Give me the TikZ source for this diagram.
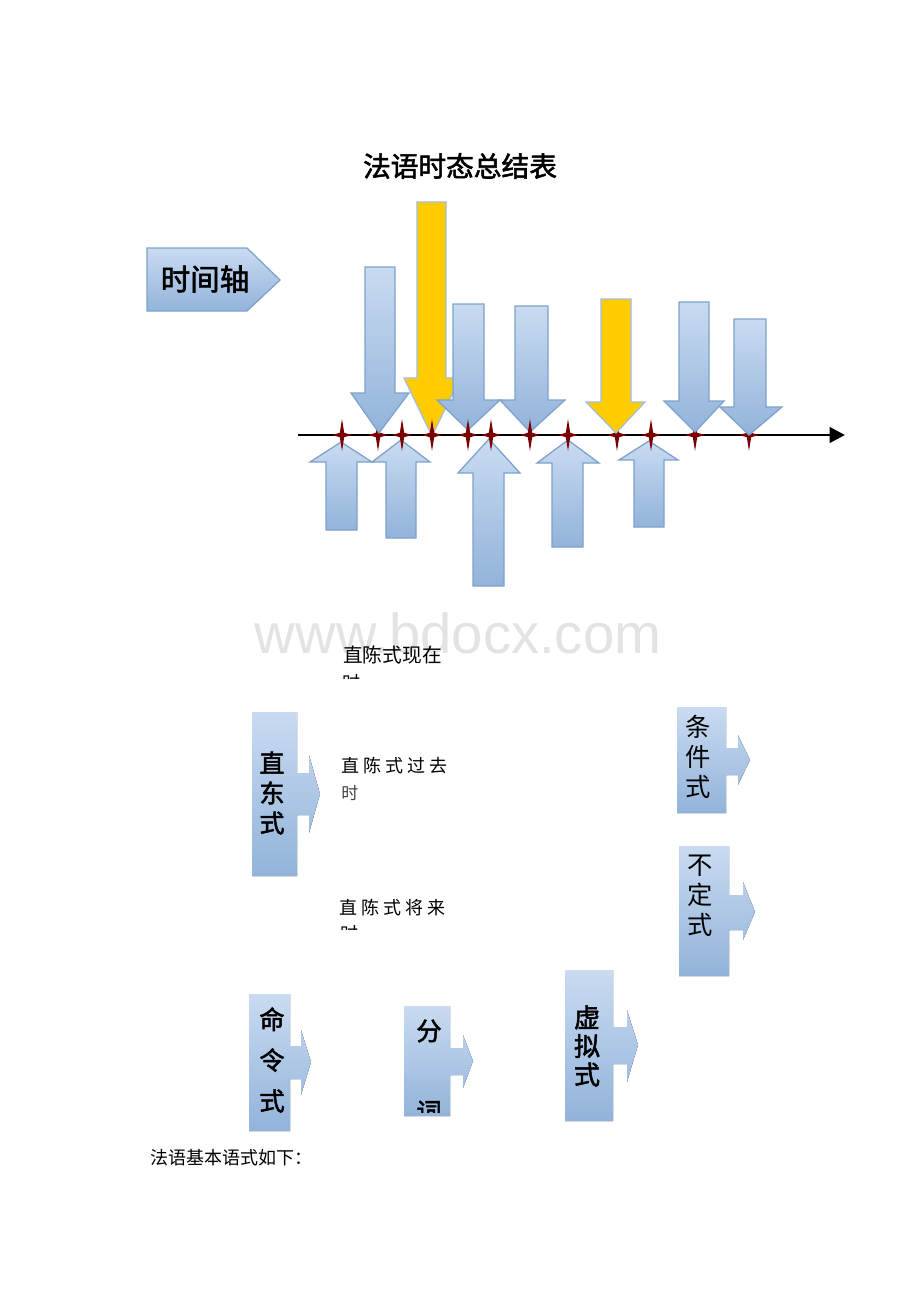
\documentclass[tikz,border=0pt]{standalone}
\usepackage{fontspec}
\newfontfamily\cjk{Noto Sans CJK SC}
\newfontfamily\cjkbold[FakeBold=2]{Noto Sans CJK SC}
\newfontfamily\wmfont{Liberation Sans}
\usetikzlibrary{arrows.meta}
\definecolor{boxtop}{HTML}{C9DBF1}
\definecolor{boxbot}{HTML}{92B3DA}
\definecolor{boxline}{HTML}{7EA1CB}
\definecolor{pastyellow}{HTML}{FFCC00}
\definecolor{starred}{HTML}{7A0000}
\tikzset{
  bluearrow/.style={draw=boxline, line width=0.9pt, top color=boxtop, bottom color=boxbot},
  yellowarrow/.style={draw=boxline!70!white, line width=0.9pt, fill=pastyellow},
  formbox/.style={top color=boxtop, bottom color=boxbot},
  timeline/.style={line width=2.1pt, -{Triangle[length=11pt,width=11pt]}},
  tickstar/.pic={\fill[starred] (0,-16) -- (2.2,-2.2) -- (10,0) -- (2.2,2.2) -- (0,16) -- (-2.2,2.2) -- (-10,0) -- (-2.2,-2.2) -- cycle;},
  formlabel/.style={align=center, inner sep=0pt},
  plain/.style={anchor=west, inner sep=0pt},
}

\begin{document}
\begin{tikzpicture}[x=0.025cm,y=-0.025cm]
\useasboundingbox (0,0) rectangle (920,1302);

% watermark
\node[text=black!11, font=\wmfont\fontsize{40pt}{40pt}\selectfont] (mark) at (458,633) {www.bdocx.com};

% title
\node[font=\cjkbold\fontsize{19.7pt}{24pt}\selectfont] (title) at (460,166) {法语时态总结表};

% label of the time axis
\draw[bluearrow] (147,248) -- (247,248) -- (280,280) -- (247,311) -- (147,311) -- cycle;
\node[font=\cjkbold\fontsize{21pt}{24pt}\selectfont] (axislabel) at (205,279) {时间轴};

% arrows from below
\draw[bluearrow] (341,442) -- (372,462) -- (357,462) -- (357,530) -- (326,530) -- (326,462) -- (310,462) -- cycle;
\draw[bluearrow] (401,440) -- (430,462) -- (416,462) -- (416,538) -- (386,538) -- (386,462) -- (372,462) -- cycle;
\draw[bluearrow] (489,439) -- (520,473) -- (504,473) -- (504,586) -- (473,586) -- (473,473) -- (458,473) -- cycle;
\draw[bluearrow] (568,440) -- (599,463) -- (583,463) -- (583,547) -- (552,547) -- (552,463) -- (537,463) -- cycle;
\draw[bluearrow] (649,441) -- (678,460) -- (664,460) -- (664,527) -- (634,527) -- (634,460) -- (619,460) -- cycle;

% axis
\coordinate (start) at (298,435);
\coordinate (end) at (845,435);
\draw[timeline] (start) -- (end);
\foreach \x in {378,617,695,749}
  \pic at (\x,435) {tickstar};

% arrows from above
\draw[bluearrow] (365,267) -- (395,267) -- (395,393) -- (409,393) -- (379,433) -- (351,393) -- (365,393) -- cycle;
\draw[yellowarrow] (417,202) -- (446,202) -- (446,378) -- (460,378) -- (432,436) -- (404,378) -- (417,378) -- cycle;
\draw[bluearrow] (453,304) -- (484,304) -- (484,400) -- (500,400) -- (468,430) -- (437,400) -- (453,400) -- cycle;
\draw[bluearrow] (515,306) -- (548,306) -- (548,400) -- (565,400) -- (530,432) -- (500,400) -- (515,400) -- cycle;
\draw[yellowarrow] (601,299) -- (631,299) -- (631,402) -- (645,402) -- (616,433) -- (586,402) -- (601,402) -- cycle;
\draw[bluearrow] (679,302) -- (709,302) -- (709,401) -- (724,401) -- (695,432) -- (664,401) -- (679,401) -- cycle;
\draw[bluearrow] (734,319) -- (766,319) -- (766,407) -- (782,407) -- (749,435) -- (720,407) -- (734,407) -- cycle;
\foreach \x in {342,402,432,468,491,530,568,651}
  \pic at (\x,435) {tickstar};

% indicative tenses
\node[plain, font=\cjk\fontsize{14pt}{16pt}\selectfont] (present) at (343,655) {直陈式现在};
\begin{scope}
  \clip (330,665) rectangle (470,678);
  \node[plain, font=\cjk\fontsize{12.8pt}{16pt}\selectfont] (presenttail) at (342,683) {时};
\end{scope}
\node[plain, font=\cjk\fontsize{12.8pt}{16pt}\selectfont] (past) at (341,766) {直 陈 式 过 去};
\node[plain, text=black!75, font=\cjk\fontsize{12pt}{16pt}\selectfont] (pasttail) at (341,793) {时};
\node[plain, font=\cjk\fontsize{12.8pt}{16pt}\selectfont] (future) at (339,908) {直 陈 式 将 来};
\begin{scope}
  \clip (330,920) rectangle (470,929);
  \node[plain, font=\cjk\fontsize{12.8pt}{16pt}\selectfont] (futuretail) at (340,934) {时};
\end{scope}

% moods
\fill[formbox] (252,712) -- (297,712) -- (297,773) -- (309,773) -- (309,755) -- (320,794) -- (309,833) -- (309,815) -- (297,815) -- (297,876) -- (252,876) -- cycle;
\node[formlabel, font=\cjkbold\fontsize{17.8pt}{21.3pt}\selectfont] (indicative) at (272,793) {直\\东\\式};

\fill[formbox] (677,707) -- (726,707) -- (726,748) -- (738,748) -- (738,735) -- (750,760) -- (738,785) -- (738,775) -- (726,775) -- (726,813) -- (677,813) -- cycle;
\node[formlabel, font=\cjk\fontsize{18pt}{21.3pt}\selectfont] (conditional) at (698,757) {条\\件\\式};

\fill[formbox] (679,846) -- (729,846) -- (729,895) -- (743,895) -- (743,882) -- (755,912) -- (743,940) -- (743,930) -- (729,930) -- (729,976) -- (679,976) -- cycle;
\node[formlabel, font=\cjk\fontsize{18pt}{21.3pt}\selectfont] (infinitive) at (700,896) {不\\定\\式};

\fill[formbox] (249,994) -- (290,994) -- (290,1046) -- (301,1046) -- (301,1030) -- (311,1062) -- (301,1095) -- (301,1079) -- (290,1079) -- (290,1131) -- (249,1131) -- cycle;
\node[formlabel, font=\cjkbold\fontsize{18pt}{29pt}\selectfont] (imperative) at (272,1060) {命\\令\\式};

\fill[formbox] (404,1006) -- (450,1006) -- (450,1048) -- (463,1048) -- (463,1035) -- (473,1061) -- (463,1088) -- (463,1075) -- (450,1075) -- (450,1116) -- (404,1116) -- cycle;
\node[formlabel, font=\cjkbold\fontsize{18pt}{21pt}\selectfont] (participle) at (429,1031) {分};
\begin{scope}
  \clip (404,1090) rectangle (450,1112);
  \node[formlabel, font=\cjkbold\fontsize{18pt}{21pt}\selectfont] (participletail) at (429,1112) {词};
\end{scope}

\fill[formbox] (565,970) -- (613,970) -- (613,1027) -- (627,1027) -- (627,1010) -- (638,1045) -- (627,1082) -- (627,1064) -- (613,1064) -- (613,1121) -- (565,1121) -- cycle;
\node[formlabel, font=\cjkbold\fontsize{18.5pt}{20.3pt}\selectfont] (subjunctive) at (587,1046) {虚\\拟\\式};

% closing line
\node[plain, font=\cjk\fontsize{12.8pt}{16pt}\selectfont] (intro) at (150,1158) {法语基本语式如下：};
\end{tikzpicture}
\end{document}
